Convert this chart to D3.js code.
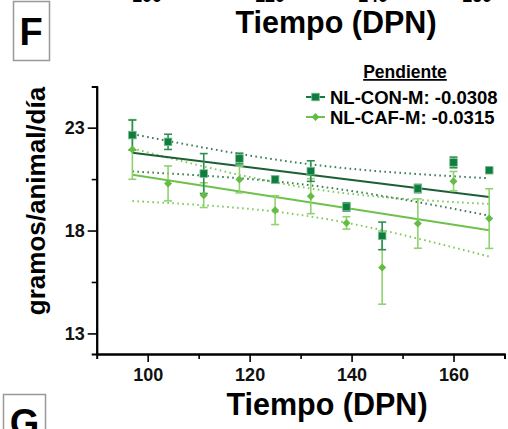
<!DOCTYPE html>
<html lang="es">
<head>
<meta charset="UTF-8">
<script src="https://d3js.org/d3.v7.min.js"></script>
<style>
  body { margin: 0; background: #fff; }
  svg { font-family: "Liberation Sans", Arial, sans-serif; font-weight: bold; }
</style>
</head>
<body>
<svg id="mainsvg" width="508" height="429"></svg>
<script>
// datos
const dias = [97, 104, 111, 118, 125, 132, 139, 146, 153, 160, 167]
const conMedia = [22.64, 22.31, 20.77, 21.5, 20.48, 20.89, 19.15, 17.74, 20.04, 21.31, 20.93]
const conSem = [0.73, 0.37, 0.97, 0.26, 0.15, 0.5, 0.2, 0.67, 0.2, 0.26, 0.08]
const cafMedia = [21.94, 20.29, 19.72, 20.48, 18.99, 19.67, 18.37, 16.2, 18.34, 20.4, 18.58]
const cafSem = [1.45, 0.85, 0.6, 0.65, 0.7, 0.85, 0.3, 1.78, 1.2, 0.47, 1.45]
// semiancho de la banda 95% en el centro y en los extremos
const bandaCentro = [0.51, 0.68]
const bandaExtremo = [0.91, 1.28]
const etiquetas = ['NL-CON-M: -0.0308', 'NL-CAF-M: -0.0315']
const xTicks = [100, 120, 140, 160]
const xMinor = [110, 130, 150, 170]
const yTicks = [13, 18, 23]
const yMinor = [15.5, 20.5]

const svg = d3.select('#mainsvg')
const x = d3.scaleLinear().domain([90, 170]).range([96.7, 504.5])
const y = d3.scaleLinear().domain([12, 25]).range([354, 86.5])

const series = [
  { media: cafMedia, sem: cafSem, color: '#63bd44', bar: '#8fd270', line: '#6ec24b', dot: '#7fcc5c', shape: 'diamond', i: 1 },
  { media: conMedia, sem: conSem, color: '#0e7d3d', bar: '#2f8f52', line: '#1c5f34', dot: '#3b7d55', shape: 'square', i: 0 }
]

// regresion lineal sobre las medias
function ajuste(ys) {
  const mx = d3.mean(dias), my = d3.mean(ys)
  let sxy = 0, sxx = 0
  dias.forEach((d, k) => { sxy += (d - mx) * (ys[k] - my); sxx += (d - mx) * (d - mx) })
  const b = sxy / sxx
  return { mx, my, b, f: d => my + b * (d - mx) }
}

// paneles vecinos (recortados)
const arriba = svg.append('g')
arriba.selectAll('text.tt').data(xTicks).enter().append('text')
  .attr('x', (d, i) => [147, 270, 373, 477][i]).attr('y', 2)
  .attr('text-anchor', 'middle').attr('font-size', 18).text(d => d)
arriba.append('text').attr('x', 336).attr('y', 33).attr('text-anchor', 'middle')
  .attr('font-size', 30.5).text('Tiempo (DPN)')
svg.append('rect').attr('x', 13.5).attr('y', 1.5).attr('width', 36).attr('height', 59)
  .attr('fill', 'none').attr('stroke', '#999').attr('stroke-width', 1.5)
svg.append('text').attr('x', 31).attr('y', 45).attr('text-anchor', 'middle')
  .attr('font-size', 38).text('F')
svg.append('rect').attr('x', 3.5).attr('y', 394.5).attr('width', 42).attr('height', 50)
  .attr('fill', 'none').attr('stroke', '#999').attr('stroke-width', 1.5)
svg.append('text').attr('x', 24.5).attr('y', 436).attr('text-anchor', 'middle')
  .attr('font-size', 38).text('G')

const g = svg.append('g')
const xs = d3.range(dias[0], dias[dias.length - 1] + 0.5, 0.5)

series.forEach(s => {
  const r = ajuste(s.media)
  const hc = bandaCentro[s.i], he = bandaExtremo[s.i]
  const dmax = dias[dias.length - 1] - r.mx
  const h = d => Math.sqrt(hc * hc + (he * he - hc * hc) * Math.pow((d - r.mx) / dmax, 2))
  const linea = d3.line().x(d => x(d[0])).y(d => y(d[1]))
  g.append('path').datum(xs.map(d => [d, r.f(d) + h(d)])).attr('d', linea)
    .attr('fill', 'none').attr('stroke', s.dot).attr('stroke-width', 2).attr('stroke-dasharray', '1.6,3.4')
  g.append('path').datum(xs.map(d => [d, r.f(d) - h(d)])).attr('d', linea)
    .attr('fill', 'none').attr('stroke', s.dot).attr('stroke-width', 2).attr('stroke-dasharray', '1.6,3.4')
  g.append('path').datum([dias[0], dias[dias.length - 1]].map(d => [d, r.f(d)])).attr('d', linea)
    .attr('fill', 'none').attr('stroke', s.line).attr('stroke-width', 2)
})

// barras de error
series.forEach(s => {
  const eb = g.append('g').attr('stroke', s.bar).attr('stroke-width', 1.6)
  dias.forEach((d, k) => {
    const lo = y(s.media[k] - s.sem[k]), hi = y(s.media[k] + s.sem[k])
    eb.append('line').attr('x1', x(d)).attr('x2', x(d)).attr('y1', lo).attr('y2', hi)
    eb.append('line').attr('x1', x(d) - 4).attr('x2', x(d) + 4).attr('y1', lo).attr('y2', lo)
    eb.append('line').attr('x1', x(d) - 4).attr('x2', x(d) + 4).attr('y1', hi).attr('y2', hi)
  })
})

function marca(sel, shape, color, cx, cy) {
  if (shape === 'square') {
    sel.append('rect').attr('x', cx - 3.8).attr('y', cy - 3.8).attr('width', 7.6).attr('height', 7.6)
      .attr('fill', color).attr('stroke', '#7fbf95').attr('stroke-width', 0.8)
  } else {
    sel.append('path').attr('d', `M${cx},${cy - 4}L${cx + 4},${cy}L${cx},${cy + 4}L${cx - 4},${cy}Z`)
      .attr('fill', color)
  }
}
series.forEach(s => {
  dias.forEach((d, k) => marca(g, s.shape, s.color, x(d), y(s.media[k])))
})

// ejes
const ax = svg.append('g').attr('transform', 'translate(0,354)')
  .call(d3.axisBottom(x).tickValues(xTicks).tickSize(8).tickPadding(6).tickSizeOuter(0))
ax.append('g').call(d3.axisBottom(x).tickValues(xMinor).tickSize(5).tickFormat(''))
const ay = svg.append('g').attr('transform', 'translate(96.7,0)')
  .call(d3.axisLeft(y).tickValues(yTicks).tickSize(9).tickPadding(3).tickSizeOuter(0))
ay.append('g').call(d3.axisLeft(y).tickValues(yMinor).tickSize(5).tickFormat(''))
svg.selectAll('.domain').attr('stroke', '#000').attr('stroke-width', 2)
svg.selectAll('.tick line').attr('stroke', '#000').attr('stroke-width', 1.6)
svg.selectAll('.tick text').attr('font-size', 18).attr('font-family', '"Liberation Sans", Arial, sans-serif')
  .attr('font-weight', 'bold').attr('fill', '#111')

svg.append('text').attr('x', 327).attr('y', 415).attr('text-anchor', 'middle')
  .attr('font-size', 30.5).text('Tiempo (DPN)')
svg.append('text').attr('transform', 'translate(45,201) rotate(-90)').attr('text-anchor', 'middle')
  .attr('font-size', 26).text('gramos/animal/día')

// leyenda
const ley = svg.append('g')
ley.append('text').attr('x', 405).attr('y', 78).attr('text-anchor', 'middle')
  .attr('font-size', 17.5).attr('text-decoration', 'underline').text('Pendiente')
;[series[1], series[0]].forEach((s, k) => {
  const yy = 97 + k * 20
  ley.append('line').attr('x1', 306).attr('x2', 325).attr('y1', yy).attr('y2', yy)
    .attr('stroke', s.shape === 'square' ? s.color : s.line).attr('stroke-width', 2)
  marca(ley, s.shape, s.color, 315.5, yy)
  ley.append('text').attr('x', 330).attr('y', yy + 6.5).attr('font-size', 18.5).text(etiquetas[k])
})
</script>
</body>
</html>
